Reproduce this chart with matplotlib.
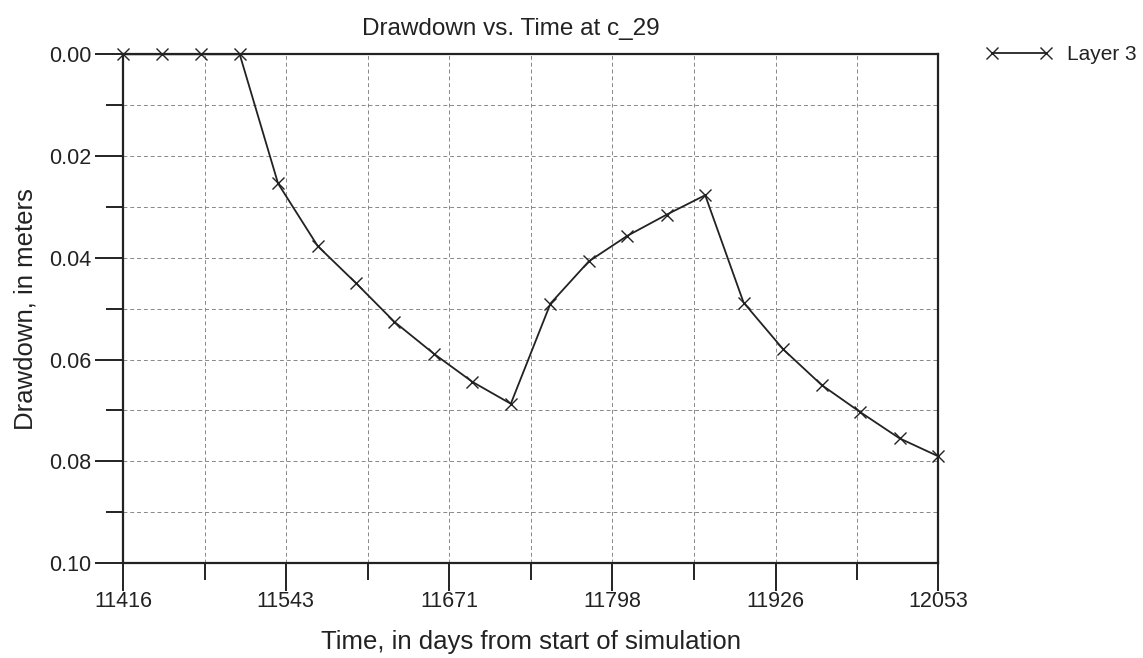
import matplotlib
matplotlib.use('Agg')
from matplotlib import pyplot as plt
from matplotlib.ticker import MultipleLocator

# days from start of simulation
days = [11416, 11446, 11477, 11507, 11537, 11568, 11598, 11628, 11659, 11689, 11719,
        11750, 11780, 11810, 11841, 11871, 11901, 11932, 11962, 11992, 12023, 12053]
# drawdown in meters, layer 3
layer3 = [0.0, 0.0, 0.0, 0.0, 0.0254, 0.0377, 0.0450, 0.0526, 0.0589, 0.0644, 0.0687,
          0.0490, 0.0407, 0.0357, 0.0315, 0.0277, 0.0488, 0.0580, 0.0650, 0.0703,
          0.0755, 0.0790]

xticks = [11416, 11543, 11671, 11798, 11926, 12053]
xminor = [11480, 11607, 11735, 11862, 11990]
xtick_labels = ["11416", "11543", "11671", "11798", "11926", "12053"]
yticks = [0.00, 0.02, 0.04, 0.06, 0.08, 0.10]
ytick_labels = ["0.00", "0.02", "0.04", "0.06", "0.08", "0.10"]


def main():
    plt.rcParams['font.family'] = ['Liberation Sans', 'DejaVu Sans']
    fig = plt.figure(figsize=(11.43, 6.58), dpi=100)
    ax = fig.add_axes([0.1079, 0.1444, 0.7127, 0.7731])

    ax.plot(days, layer3, color='#222222', linewidth=1.3, marker='x',
            markersize=8, markeredgewidth=1.0, label="Layer 3", clip_on=False,
            zorder=3)

    ax.set_xlim(11416, 12053)
    ax.set_ylim(0.10, 0.0)
    ax.set_xticks(xticks)
    ax.set_xticklabels(xtick_labels)
    ax.set_xticks(xminor, minor=True)
    ax.set_yticks(yticks)
    ax.set_yticklabels(ytick_labels)
    ax.yaxis.set_minor_locator(MultipleLocator(0.01))

    ax.tick_params(which='major', length=20, width=1.4, labelsize=15.5,
                   colors='#222222')
    ax.tick_params(axis='x', which='major', pad=0)
    ax.tick_params(axis='y', which='major', pad=3)
    ax.tick_params(which='minor', length=12, width=1.4, colors='#222222')
    ax.grid(which='both', linestyle=(0, (4, 3)), linewidth=0.7, color='#888888')
    for s in ax.spines.values():
        s.set_linewidth(1.6)
        s.set_color('#222222')

    ax.set_title("Drawdown vs. Time at c_29", fontsize=17.5, color='#222222',
                 pad=14, x=0.476)
    ax.set_xlabel("Time, in days from start of simulation", fontsize=18.5,
                  color='#222222', labelpad=13)
    ax.set_ylabel("Drawdown, in meters", fontsize=18.5, color='#222222', labelpad=8)

    fig.legend(loc='center left', bbox_to_anchor=(0.853, 1 - 55 / 658),
               frameon=False, numpoints=2, handlelength=3.2, handletextpad=0.7,
               borderpad=0, fontsize=15, labelcolor='#222222')

    fig.savefig('out.png', dpi=100)


if __name__ == '__main__':
    main()
